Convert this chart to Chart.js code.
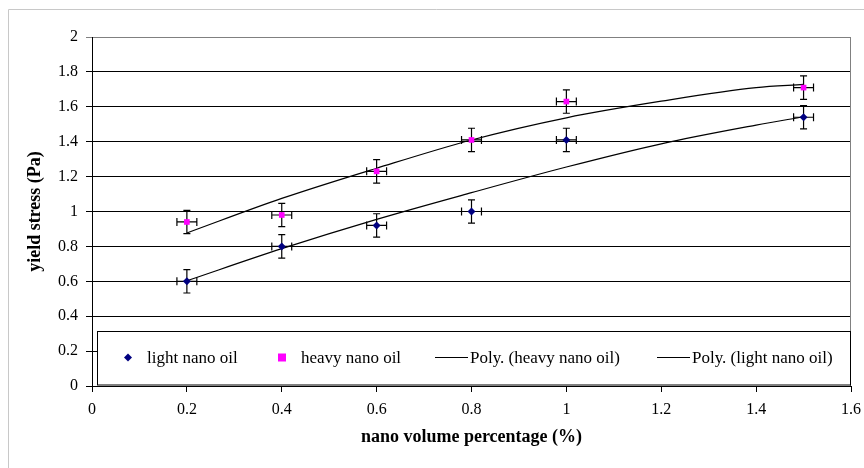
<!DOCTYPE html>
<html>
<head>
<meta charset="utf-8">
<title>yield stress vs nano volume percentage</title>
<script src="https://cdn.jsdelivr.net/npm/chart.js@4/dist/chart.umd.min.js"></script>
<style>
  html, body { margin: 0; padding: 0; background: #fff; }
  #wrap { width: 864px; height: 468px; position: relative; }
</style>
</head>
<body>
<div id="wrap"><canvas id="yieldChart" width="864" height="468"></canvas></div>
<script>
// measured points
var volumePct = [0.2, 0.4, 0.6, 0.8, 1.0, 1.5];
var lightOil = [0.60, 0.80, 0.92, 1.00, 1.41, 1.54];
var heavyOil = [0.94, 0.98, 1.23, 1.41, 1.63, 1.71];
// error bar half widths (same for every point)
var errX = 0.021;
var errY = 0.067;

// 2nd order trend curves, read at these x
var trendX = [0.2, 0.4, 0.6, 0.8, 1.0, 1.2, 1.4, 1.5];
var heavyTrend = [0.877, 1.075, 1.248, 1.41, 1.537, 1.632, 1.71, 1.728];
var lightTrend = [0.603, 0.787, 0.955, 1.108, 1.255, 1.388, 1.495, 1.543];

var serif = "'Liberation Serif', 'Times New Roman', serif";

function pts(xs, ys) {
    return xs.map(function (x, i) { return { x: x, y: ys[i] }; });
}

// 1.0 -> "1", 0.60000001 -> "0.6"
function shortNum(v) {
    return String(Number(v.toFixed(1)));
}

// page frame + right edge of plot
var framePlugin = {
    id: 'frame',
    beforeDraw: function (chart) {
        var ctx = chart.ctx;
        ctx.save();
        ctx.strokeStyle = '#c8c8c8';
        ctx.lineWidth = 1;
        ctx.beginPath();
        ctx.moveTo(8.5, 468);
        ctx.lineTo(8.5, 9.5);
        ctx.lineTo(864, 9.5);
        ctx.stroke();
        ctx.restore();
    },
    beforeDatasetsDraw: function (chart) {
        var a = chart.chartArea, ctx = chart.ctx;
        ctx.save();
        ctx.strokeStyle = '#808080';
        ctx.lineWidth = 1;
        ctx.beginPath();
        ctx.moveTo(Math.round(a.right) - 0.5, a.top);
        ctx.lineTo(Math.round(a.right) - 0.5, a.bottom);
        ctx.stroke();
        ctx.restore();
    }
};

// x and y error bars for the two measured series
var errorBarPlugin = {
    id: 'errorBars',
    beforeDatasetsDraw: function (chart) {
        var ctx = chart.ctx, xs = chart.scales.x, ys = chart.scales.y;
        ctx.save();
        ctx.strokeStyle = '#000';
        ctx.lineWidth = 1.2;
        [lightOil, heavyOil].forEach(function (series) {
            series.forEach(function (v, i) {
                var px = xs.getPixelForValue(volumePct[i]);
                var py = ys.getPixelForValue(v);
                var top = ys.getPixelForValue(v + errY);
                var bot = ys.getPixelForValue(v - errY);
                var lft = xs.getPixelForValue(volumePct[i] - errX);
                var rgt = xs.getPixelForValue(volumePct[i] + errX);
                ctx.beginPath();
                ctx.moveTo(px, top); ctx.lineTo(px, bot);
                ctx.moveTo(px - 3.5, top); ctx.lineTo(px + 3.5, top);
                ctx.moveTo(px - 3.5, bot); ctx.lineTo(px + 3.5, bot);
                ctx.moveTo(lft, py); ctx.lineTo(rgt, py);
                ctx.moveTo(lft, py - 4); ctx.lineTo(lft, py + 4);
                ctx.moveTo(rgt, py - 4); ctx.lineTo(rgt, py + 4);
                ctx.stroke();
            });
        });
        ctx.restore();
    }
};

// boxed legend sitting inside the plot, along the bottom
var boxLegendPlugin = {
    id: 'boxLegend',
    afterDraw: function (chart) {
        var ctx = chart.ctx;
        var a = chart.chartArea;
        var top = 331.5, bottom = a.bottom - 1, left = 97.5, right = a.right - 0.5;
        var cy = 357.5;
        var starts = [120, 274, 435, 657];
        ctx.save();
        ctx.fillStyle = '#fff';
        ctx.fillRect(left, top, right - left, bottom - top);
        ctx.strokeStyle = '#000';
        ctx.lineWidth = 1;
        ctx.strokeRect(left, top, right - left, bottom - top);
        ctx.font = '17px ' + serif;
        ctx.textBaseline = 'middle';
        chart.data.datasets.forEach(function (ds, i) {
            var x0 = starts[i];
            var tx;
            if (ds.showLine) {
                ctx.strokeStyle = ds.borderColor;
                ctx.lineWidth = 1;
                ctx.beginPath();
                ctx.moveTo(x0, cy);
                ctx.lineTo(x0 + 33, cy);
                ctx.stroke();
                tx = x0 + 35;
            } else {
                ctx.fillStyle = ds.backgroundColor;
                var r = ds.pointRadius;
                ctx.beginPath();
                if (ds.pointStyle === 'rectRot') {
                    ctx.moveTo(x0 + 8, cy - r);
                    ctx.lineTo(x0 + 8 + r, cy);
                    ctx.lineTo(x0 + 8, cy + r);
                    ctx.lineTo(x0 + 8 - r, cy);
                    ctx.closePath();
                } else {
                    ctx.rect(x0 + 8 - r, cy - r, 2 * r, 2 * r);
                }
                ctx.fill();
                tx = x0 + 27;
            }
            ctx.fillStyle = '#000';
            ctx.fillText(ds.label, tx, cy + 1);
        });
        ctx.restore();
    }
};

var yieldChart = new Chart(document.getElementById('yieldChart'), {
    type: 'scatter',
    data: {
        datasets: [{
            label: 'light nano oil',
            data: pts(volumePct, lightOil),
            pointStyle: 'rectRot',
            pointRadius: 4,
            backgroundColor: '#000080',
            borderColor: '#000080',
            borderWidth: 0,
            showLine: false,
            order: 0
        }, {
            label: 'heavy nano oil',
            data: pts(volumePct, heavyOil),
            pointStyle: 'rect',
            pointRadius: 4,
            backgroundColor: '#ff00ff',
            borderColor: '#ff00ff',
            borderWidth: 0,
            showLine: false,
            order: 0
        }, {
            label: 'Poly. (heavy nano oil)',
            data: pts(trendX, heavyTrend),
            showLine: true,
            pointRadius: 0,
            borderColor: '#000',
            borderWidth: 1.2,
            cubicInterpolationMode: 'monotone',
            order: 1
        }, {
            label: 'Poly. (light nano oil)',
            data: pts(trendX, lightTrend),
            showLine: true,
            pointRadius: 0,
            borderColor: '#000',
            borderWidth: 1.2,
            cubicInterpolationMode: 'monotone',
            order: 1
        }]
    },
    options: {
        responsive: false,
        animation: false,
        events: [],
        layout: { padding: { top: 37, right: 13, left: 0, bottom: 0 } },
        plugins: {
            legend: { display: false },
            tooltip: { enabled: false }
        },
        scales: {
            x: {
                type: 'linear',
                min: 0,
                max: 1.6,
                afterFit: function (s) {
                    s.height = 82;
                    s.paddingRight = 0;
                    s.paddingLeft = 0;
                },
                ticks: {
                    stepSize: 0.2, color: '#000', padding: 8,
                    font: { family: serif, size: 16 },
                    callback: shortNum
                },
                grid: { drawOnChartArea: false, color: '#000', tickLength: 6 },
                border: { color: '#000', width: 1 },
                title: {
                    display: true,
                    text: 'nano volume percentage (%)',
                    color: '#000',
                    font: { family: serif, size: 18, weight: 'bold' },
                    padding: { top: 4, bottom: 20 }
                }
            },
            y: {
                min: 0,
                max: 2,
                afterFit: function (s) { s.width = 92; },
                ticks: {
                    stepSize: 0.2, color: '#000', padding: 8,
                    font: { family: serif, size: 16 },
                    callback: shortNum
                },
                grid: {
                    color: function (c) { return c.tick && c.tick.value === 2 ? '#808080' : '#000'; },
                    tickLength: 6
                },
                border: { color: '#000', width: 1 },
                title: {
                    display: true,
                    text: 'yield stress (Pa)',
                    color: '#000',
                    font: { family: serif, size: 18, weight: 'bold' },
                    padding: { top: 25, bottom: 4 }
                }
            }
        }
    },
    plugins: [framePlugin, errorBarPlugin, boxLegendPlugin]
});
</script>
</body>
</html>
